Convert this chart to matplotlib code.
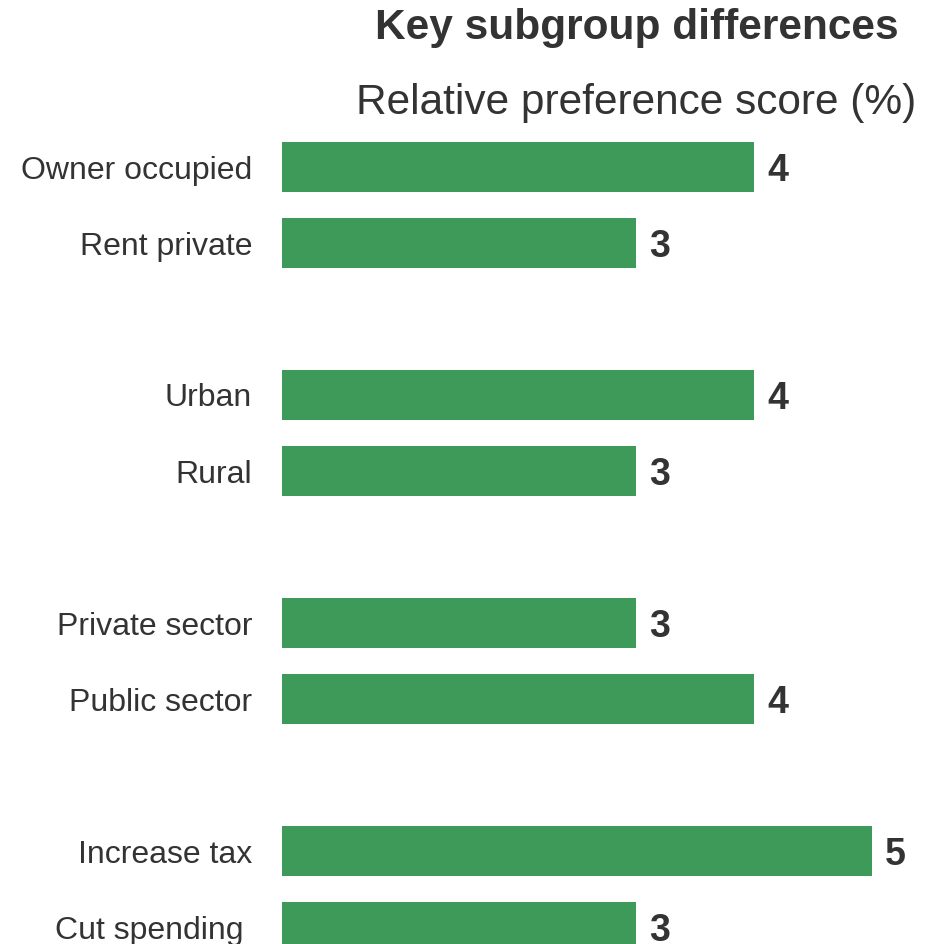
import matplotlib
matplotlib.use("Agg")
import matplotlib.pyplot as plt
import matplotlib.transforms as mtransforms

plt.rcParams['font.family'] = ['Liberation Sans', 'DejaVu Sans']

categories = ["Owner occupied", "Rent private", "Urban", "Rural",
              "Private sector", "Public sector", "Increase tax", "Cut spending"]
values = [4, 3, 4, 3, 3, 4, 5, 3]
positions = [0, 1, 3, 4, 6, 7, 9, 10]

W, H = 929, 944
fig = plt.figure(figsize=(W / 100, H / 100), dpi=100)
top_px = 130
ax = fig.add_axes([282 / W, 0, 1 - 282 / W, 1 - top_px / H])

green = "#3d9a58"
text_c = "#333333"

ax.barh(positions, values, height=0.66, color=green)
ax.set_xlim(0, 647 / 118)
slot = 76
ax.set_ylim((H - 167) / slot, -(167 - top_px) / slot)

for p, v in zip(positions, values):
    ax.text(v + 0.11, p, str(v), va="center_baseline", ha="left", fontsize=27,
            fontweight="bold", color=text_c)

ax.set_yticks(positions)
ax.set_yticklabels(categories, fontsize=23, color=text_c)
ax.tick_params(axis="y", length=0, pad=21.5)
ax.set_xticks([])
for s in ax.spines.values():
    s.set_visible(False)

# last label sits slightly left in the reference
last = ax.yaxis.get_major_ticks()[-1].label1
last.set_transform(last.get_transform() +
                   mtransforms.ScaledTranslation(-9 / 100, 0, fig.dpi_scale_trans))

fig.text(637 / W, 1 - 28 / H, "Key subgroup differences", ha="center", va="center",
         fontsize=30.5, fontweight="bold", color=text_c)
fig.text(636 / W, 1 - 103 / H, "Relative preference score (%)", ha="center", va="center",
         fontsize=30.5, color=text_c)

fig.savefig("out.png", dpi=100)
